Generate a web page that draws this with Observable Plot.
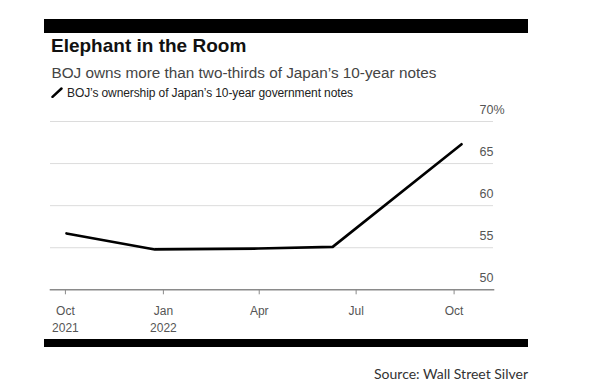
<!DOCTYPE html>
<html>
<head>
<meta charset="utf-8">
<script src="https://cdn.jsdelivr.net/npm/d3@7"></script>
<script src="https://cdn.jsdelivr.net/npm/@observablehq/plot@0.6"></script>
<style>
  html, body { margin: 0; padding: 0; background: #fff; }
  #wrap { position: relative; width: 594px; height: 391px; overflow: hidden; background: #fff; font-family: "Liberation Sans", Arial, sans-serif; }
  .bar { position: absolute; left: 44px; width: 484px; background: #000; }
  .txt { position: absolute; white-space: nowrap; line-height: 1; }
  #chart { position: absolute; left: 0; top: 0; }
</style>
</head>
<body>
<div id="wrap">
  <div id="chart"></div>
  <div class="bar" style="top:19px;height:14px"></div>
  <div class="txt" id="title" style="left:51px;top:35.6px;font-size:19px;font-weight:bold;color:#111"></div>
  <div class="txt" id="subtitle" style="left:51.5px;top:64.8px;font-size:15.3px;color:#444"></div>
  <div class="txt" id="legend" style="left:51px;top:87px;font-size:12px;color:#222;letter-spacing:-0.1px">
    <svg width="12" height="11" style="vertical-align:-1px;margin-right:4px"><line x1="1.5" y1="9.8" x2="10.5" y2="1.5" stroke="#000" stroke-width="2.5" stroke-linecap="round"/></svg><span id="legendText"></span>
  </div>
  <div class="bar" style="top:339.3px;height:8px"></div>
  <div class="txt" id="source" style="right:66px;top:366.9px;font-size:14px;color:#333;font-family:Lato, 'Open Sans', sans-serif"></div>
</div>
<script>
const titleText = "Elephant in the Room";
const subtitleText = "BOJ owns more than two-thirds of Japan\u2019s 10-year notes";
const legendLabel = "BOJ\u2019s ownership of Japan\u2019s 10-year government notes";
const sourceText = "Source: Wall Street Silver";

// series
const dates = ["2021-10-02", "2021-12-24", "2022-03-31", "2022-06-09", "2022-10-08"];
const ownership = [56.7, 54.8, 54.9, 55.1, 67.3];

// axes
const yTicks = [50, 55, 60, 65, 70];
const xTickDates = ["2021-10-01", "2022-01-01", "2022-04-01", "2022-07-01", "2022-10-01"];
const xTickLabels = ["Oct\n2021", "Jan\n2022", "Apr", "Jul", "Oct"];
const xDomain = ["2021-09-17", "2022-11-07"];
const yDomain = [50, 70];

document.getElementById("title").textContent = titleText;
document.getElementById("subtitle").textContent = subtitleText;
document.getElementById("legendText").textContent = legendLabel;
document.getElementById("source").textContent = sourceText;

const data = dates.map((d, i) => ({date: new Date(d), value: ownership[i]}));
const xTicks = xTickDates.map(d => new Date(d));
const labelFor = new Map(xTicks.map((d, i) => [+d, xTickLabels[i]]));

const chart = Plot.plot({
  width: 594,
  height: 339,
  marginLeft: 50,
  marginRight: 101,
  marginTop: 121,
  marginBottom: 49.7,
  style: {fontFamily: "'Liberation Sans', Arial, sans-serif", fontSize: "12px", color: "#555", background: "transparent"},
  x: {type: "utc", domain: xDomain.map(d => new Date(d)), label: null},
  y: {domain: yDomain, label: null},
  marks: [
    Plot.gridY(yTicks.filter(v => v !== 50), {stroke: "#dcdcdc", strokeOpacity: 1, strokeWidth: 1}),
    Plot.frame({anchor: "bottom", stroke: "#8a8a8a", strokeWidth: 1.6}),
    Plot.axisY(yTicks, {anchor: "right", label: null, tickSize: 0, tickPadding: 0, dx: -14, dy: -12, textAnchor: "start",
      fill: "#555", fontSize: 12.5, tickFormat: v => v === 70 ? "70%" : String(v)}),
    Plot.axisX(xTicks, {anchor: "bottom", label: null, tickSize: 5, tickPadding: 8, stroke: "#8a8a8a", fill: "#555",
      fontSize: 12, lineHeight: 1.4, tickFormat: d => labelFor.get(+d)}),
    Plot.line(data, {x: "date", y: "value", stroke: "#000", strokeWidth: 2.6, strokeLinejoin: "round", strokeLinecap: "round"})
  ]
});
document.getElementById("chart").appendChild(chart);
</script>
</body>
</html>
